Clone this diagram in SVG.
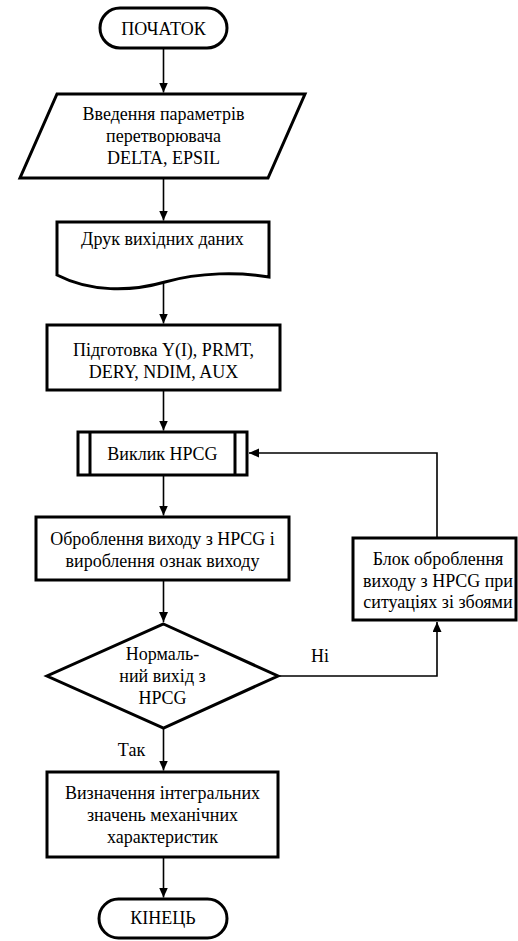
<svg xmlns="http://www.w3.org/2000/svg" width="518" height="941" viewBox="0 0 518 941">
<style>
.b{fill:#fff;stroke:#000;stroke-width:3}
.c{fill:none;stroke:#000;stroke-width:1.6}
text{font-family:'Liberation Serif','Times New Roman',Tinos,'DejaVu Serif',serif;font-size:18px;fill:#000;text-anchor:middle}
</style>
<defs>
<marker id="ah" markerUnits="userSpaceOnUse" markerWidth="11" markerHeight="10" refX="10" refY="4.5" orient="auto">
<path d="M0,0 L10,4.5 L0,9 z" fill="#000"/>
</marker>
</defs>
<rect width="518" height="941" fill="#fff"/>
<g id="connectors">
<line class="c" x1="163.5" y1="48" x2="163.5" y2="92.5" marker-end="url(#ah)"/>
<line class="c" x1="163.5" y1="178" x2="163.5" y2="220.5" marker-end="url(#ah)"/>
<line class="c" x1="163.5" y1="282" x2="163.5" y2="323.5" marker-end="url(#ah)"/>
<line class="c" x1="163.5" y1="390" x2="163.5" y2="430.5" marker-end="url(#ah)"/>
<line class="c" x1="163.5" y1="475" x2="163.5" y2="515.5" marker-end="url(#ah)"/>
<line class="c" x1="163.5" y1="580" x2="163.5" y2="622" marker-end="url(#ah)"/>
<line class="c" x1="163.5" y1="728" x2="163.5" y2="770.5" marker-end="url(#ah)"/>
<line class="c" x1="163.5" y1="857" x2="163.5" y2="897.5" marker-end="url(#ah)"/>
<polyline class="c" points="278,676 437,676 437,622" marker-end="url(#ah)"/>
<polyline class="c" points="437,538 437,453 249,453" marker-end="url(#ah)"/>
</g>
<g id="start">
<rect class="b" x="100" y="8" width="127" height="40" rx="20" ry="20"/>
<text x="163.5" y="35">ПОЧАТОК</text>
</g>
<g id="input">
<polygon class="b" points="57,94 305,94 268,178 20,178"/>
<text x="163.5" y="120">Введення параметрів</text>
<text x="163.5" y="142">перетворювача</text>
<text x="163.5" y="164">DELTA, EPSIL</text>
</g>
<g id="print">
<path class="b" d="M57,222 H269 V277 C240,272 200,272 165,282 C130,292 90,292 57,275 Z"/>
<text x="162.5" y="245">Друк вихідних даних</text>
</g>
<g id="prepare">
<rect class="b" x="47" y="325" width="233" height="65"/>
<text x="163.5" y="356">Підготовка Y(I), PRMT,</text>
<text x="163.5" y="378">DERY, NDIM, AUX</text>
</g>
<g id="call">
<rect class="b" x="78" y="432" width="169" height="43"/>
<line class="b" x1="90" y1="432" x2="90" y2="475"/>
<line class="b" x1="235" y1="432" x2="235" y2="475"/>
<text x="162.5" y="460">Виклик HPCG</text>
</g>
<g id="process">
<rect class="b" x="36" y="517" width="253" height="63"/>
<text x="162.5" y="545">Оброблення виходу з HPCG і</text>
<text x="162.5" y="567">вироблення ознак виходу</text>
</g>
<g id="error">
<rect class="b" x="353" y="538" width="163" height="82"/>
<text x="438" y="565">Блок оброблення</text>
<text x="438" y="587">виходу з HPCG при</text>
<text x="438" y="608">ситуаціях зі збоями</text>
</g>
<g id="decision">
<polygon class="b" points="163.5,624 278,676 163.5,728 47,676"/>
<text x="162.5" y="660">Нормаль-</text>
<text x="162.5" y="682">ний вихід з</text>
<text x="162.5" y="704">HPCG</text>
</g>
<text x="320" y="662">Ні</text>
<text x="131.5" y="756">Так</text>
<g id="compute">
<rect class="b" x="47" y="772" width="231" height="85"/>
<text x="162.5" y="799">Визначення інтегральних</text>
<text x="162.5" y="821">значень механічних</text>
<text x="162.5" y="843">характеристик</text>
</g>
<g id="end">
<rect class="b" x="99" y="899" width="128" height="39" rx="19.5" ry="19.5"/>
<text x="163" y="924">КІНЕЦЬ</text>
</g>
</svg>
